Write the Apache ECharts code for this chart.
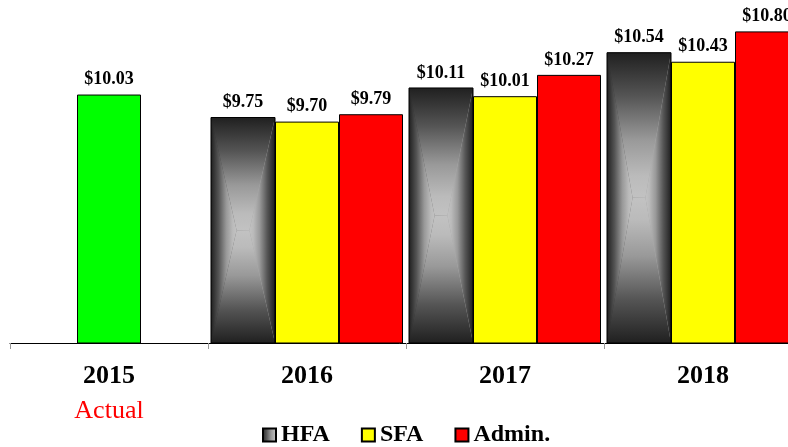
<!DOCTYPE html>
<html>
<head>
<meta charset="utf-8">
<script src="https://cdn.jsdelivr.net/npm/echarts@6/dist/echarts.min.js"></script>
<style>
  html, body { margin: 0; padding: 0; background: #fff; }
  #chart { width: 788px; height: 447px; }
</style>
</head>
<body>
<div id="chart"></div>
<script>
// chart data
const years = ['2015', '2016', '2017', '2018'];
const yearNotes = ['Actual', '', '', ''];
const actual = [10.03, null, null, null];
const hfa = [null, 9.75, 10.11, 10.54];
const sfa = [null, 9.70, 10.01, 10.43];
const admin = [null, 9.79, 10.27, 10.80];

const Y_MIN = 7;
const Y_MAX = 11;
const BAR_W = 64;
const SERIF = 'Liberation Serif';
// grey ramp, edge -> centre
const SHADE = [[0, '#202020'], [0.3, '#555555'], [0.6, '#999999'], [0.85, '#bbbbbb'], [1, '#c2c2c2']];

const valueLabel = {
  show: true,
  position: 'top',
  distance: 6,
  formatter: (p) => '$' + p.value.toFixed(2),
  fontFamily: SERIF,
  fontWeight: 'bold',
  fontSize: 18,
  color: '#000'
};

// gradient along (0,0)->(x2,y2); reversed puts the light end first
function grad(x2, y2, reversed) {
  const stops = SHADE.map((s) => ({ offset: reversed ? 1 - s[0] : s[0], color: s[1] }));
  stops.sort((p, q) => p.offset - q.offset);
  return new echarts.graphic.LinearGradient(0, 0, x2, y2, stops);
}

// HFA bars get a "from center" path gradient drawn on top of the bar series
function renderShade(params, api) {
  const top = api.coord([api.value(0), api.value(1)]);
  const base = api.coord([api.value(0), Y_MIN]);
  const x0 = top[0] - 1.5 * BAR_W;
  const x1 = top[0] - 0.5 * BAR_W;
  const y0 = top[1];
  const y1 = base[1];
  const cx = (x0 + x1) / 2;
  const cy = (y0 + y1) / 2;
  const a = BAR_W * 0.1;
  return {
    type: 'group',
    children: [
      { type: 'polygon', shape: { points: [[x0, y0], [x1, y0], [cx + a, cy], [cx - a, cy]] }, style: { fill: grad(0, 1, false) } },
      { type: 'polygon', shape: { points: [[x0, y1], [x1, y1], [cx + a, cy], [cx - a, cy]] }, style: { fill: grad(0, 1, true) } },
      { type: 'polygon', shape: { points: [[x0, y0], [x0, y1], [cx - a, cy]] }, style: { fill: grad(1, 0, false) } },
      { type: 'polygon', shape: { points: [[x1, y0], [x1, y1], [cx + a, cy]] }, style: { fill: grad(1, 0, true) } },
      { type: 'rect', shape: { x: x0, y: y0, width: BAR_W, height: y1 - y0 }, style: { fill: null, stroke: '#000', lineWidth: 1 } }
    ]
  };
}

const chart = echarts.init(document.getElementById('chart'));
chart.setOption({
  backgroundColor: '#fff',
  animation: false,
  legend: {
    data: ['HFA', 'SFA', 'Admin.'],
    left: 257,
    top: 418,
    icon: 'rect',
    itemWidth: 13,
    itemHeight: 13,
    itemGap: 31,
    textStyle: { fontFamily: SERIF, fontWeight: 'bold', fontSize: 24, color: '#000' }
  },
  grid: { left: 10, width: 792, top: 15, bottom: 104, outerBoundsMode: 'none' },
  xAxis: [
    {
      type: 'category',
      data: years,
      axisLine: { lineStyle: { color: '#000', width: 1 } },
      axisTick: { show: true, length: 6, lineStyle: { color: '#999' } },
      axisLabel: {
        margin: 16,
        formatter: (val, idx) => yearNotes[idx] ? '{y|' + val + '}\n{a|' + yearNotes[idx] + '}' : '{y|' + val + '}',
        rich: {
          y: { fontFamily: SERIF, fontWeight: 'bold', fontSize: 26, color: '#000', lineHeight: 35 },
          a: { fontFamily: SERIF, fontSize: 26, color: '#ff0000', lineHeight: 35 }
        }
      }
    },
    { type: 'category', data: years, show: false }
  ],
  yAxis: {
    type: 'value',
    min: Y_MIN,
    max: Y_MAX,
    show: false,
    splitLine: { show: false }
  },
  series: [
    {
      name: 'Actual',
      type: 'bar',
      xAxisIndex: 1,
      barWidth: BAR_W,
      data: actual,
      itemStyle: { color: '#00ff00', borderColor: '#000', borderWidth: 1 },
      label: valueLabel
    },
    {
      name: 'HFA',
      type: 'bar',
      barWidth: BAR_W,
      barGap: 0,
      data: hfa,
      itemStyle: { color: grad(1, 0, false), borderColor: '#000', borderWidth: 1 },
      label: valueLabel
    },
    {
      name: 'SFA',
      type: 'bar',
      barWidth: BAR_W,
      barGap: 0,
      data: sfa,
      itemStyle: { color: '#ffff00', borderColor: '#000', borderWidth: 1 },
      label: valueLabel
    },
    {
      name: 'Admin.',
      type: 'bar',
      barWidth: BAR_W,
      barGap: 0,
      data: admin,
      itemStyle: { color: '#ff0000', borderColor: '#000', borderWidth: 1 },
      label: valueLabel
    },
    {
      name: 'HFA shade',
      type: 'custom',
      renderItem: renderShade,
      encode: { x: 0, y: 1 },
      data: hfa.map((v, i) => [i, v]).filter((d) => d[1] != null),
      silent: true,
      z: 3
    }
  ]
});
</script>
</body>
</html>
